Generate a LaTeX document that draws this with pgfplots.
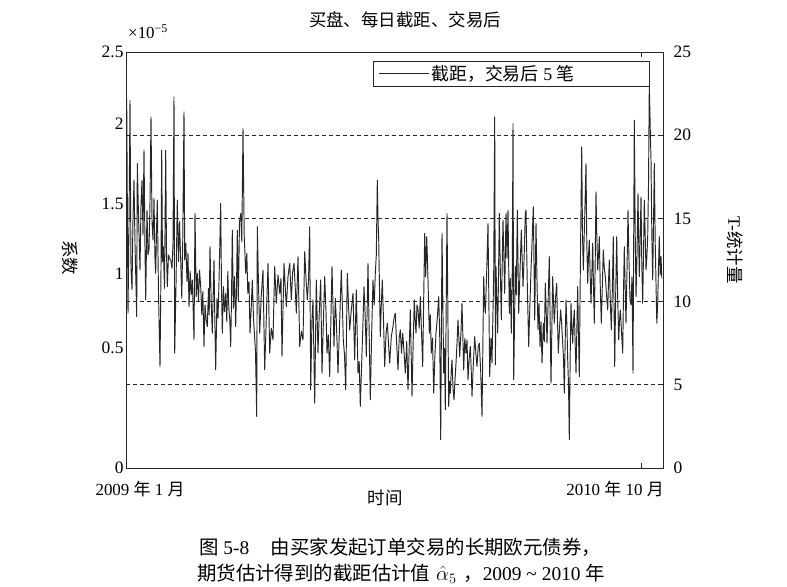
\documentclass[border=0pt]{standalone}
\usepackage{fontspec}
\setmainfont{Liberation Serif}
\newfontfamily\cjk{Noto Sans CJK SC}
\usepackage{pgfplots}
\pgfplotsset{compat=1.18}
\usepackage{pgfplotstable}
\pgfplotstableread{
x y
0 13.8
0.7 22.2
2 9.3
3 14.6
4 22.1
5 12.0
6 10.7
7 15.0
8 17.3
9 13.5
10.7 9.1
11.3 18.3
12.5 15.2
14 11.9
15 15.8
16 17.3
17 14.0
18 19.1
19 13.2
19.7 10.1
21 15.5
22 12.8
23 13.1
24 16.0
25 21.1
26 14.8
27 13.7
28 16.2
29 12.5
29.7 11.7
30.5 14.2
31.3 16.1
32.5 10.5
34 6.1
35 12.0
35.7 19.1
36.5 12.4
37.3 13.3
38.5 10.8
39.7 19.1
40.5 13.0
41.3 10.9
42.5 12.8
43.5 12.6
44.7 12.5
46 12.0
47 13.5
48 22.3
48.7 6.9
50 11.0
51.3 16.1
52.5 12.4
53.5 14.8
54.7 12.5
55.8 10.2
56.8 13.9
58 21.4
58.7 12.5
59.8 13.5
61 11.2
62 12.9
63 9.7
64.2 11.8
65.2 10.4
66.3 11.3
67.2 9.5
68 7.7
69 15.3
70.2 10.3
71.3 11.7
72.5 10.0
73.5 11.9
74.7 10.9
75.8 9.2
76.8 10.6
78 7.3
79 9.8
80.2 8.9
81.3 8.5
82.5 10.8
83.2 9.2
84 13.3
85.2 10.0
86.3 8.1
87.2 10.5
88 12.5
88.8 9.0
89.7 5.9
91 10.2
92 9.0
93 11.2
94.7 15.9
95.5 10.8
96.3 8.1
97.4 10.9
98.5 9.4
99.7 10.5
100.8 8.8
101.8 11.8
102.8 9.6
103.8 8.9
104.7 7.3
105.5 10.2
106.3 14.3
107.4 9.6
108.5 11.5
109.7 8.5
110.5 10.8
111.3 14.3
112.3 10.0
113.5 14.8
114.7 15.3
115.8 13.6
117 20.4
118.2 14.0
119.7 11.7
120.8 12.9
121.8 10.5
123 11.2
124 8.1
125.2 9.6
126.3 11.3
127.5 9.0
128.5 8.0
129.5 7.0
130.7 3.1
131.3 14.5
132.5 11.0
133.7 8.1
135.3 10.4
137 11.9
138.7 5.9
140.3 9.0
142 12.3
143.7 6.9
145.3 8.4
147 7.7
148.7 12.1
150.3 9.9
152 11.6
153.7 10.5
155 11.4
156 6.7
158 12.3
159.2 10.9
160.3 9.7
162 11.5
163.7 12.3
165.3 10.1
166.7 11.8
168 12.3
169.2 10.9
170.3 9.3
172 12.7
173.7 7.3
175.3 8.2
177 7.7
178.7 13.0
180 11.4
181.3 10.1
182.5 11.2
183.7 14.5
184.7 4.7
186 9.0
187 10.1
188.7 3.9
190.3 11.3
192 6.9
193.3 9.4
194.7 11.3
196 5.7
197.3 8.6
198.7 11.5
200 9.4
201 6.9
202.3 8.0
203.7 5.5
206 12.1
207 9.8
208 7.3
209.3 10.2
210.3 8.9
212 5.7
213.5 8.5
215.3 11.9
216.3 9.9
217.3 7.7
218.5 6.8
219.7 4.7
221.3 11.7
222.5 9.8
223.7 8.3
225.3 9.5
227 10.5
228.7 6.5
230.3 10.7
232 5.7
233.2 6.4
234.3 3.7
236 6.9
237 8.8
238 10.9
239.2 9.1
240.3 6.7
242 12.3
243.2 8.0
244.3 4.1
245.7 8.2
247 11.3
248.2 9.8
249.3 11.7
250.3 12.8
251.3 17.3
252 15.0
252.7 13.7
254.3 7.9
255.3 9.8
256.3 11.3
257.5 8.9
258.7 6.1
260 8.0
261.3 8.7
262.5 7.5
263.7 6.3
265.3 7.9
267 8.5
268 9.0
269.3 9.3
270.7 7.4
272 5.9
273.2 7.8
274.3 8.3
275.5 6.9
276.7 8.1
278 7.0
279.3 5.7
280.7 7.6
282 4.7
283.2 7.2
284.3 9.5
285.2 6.8
286 4.3
287.2 7.6
288.3 10.1
289.2 8.8
290 8.1
291 9.8
292 9.5
293.2 8.4
294.3 10.3
295.5 8.2
296.7 6.1
297.7 10.2
298.7 14.1
299.7 11.5
300.7 13.9
301.4 12.6
302 11.3
303.3 8.1
304.3 9.2
305.3 6.9
306.5 7.8
307.7 4.5
308.8 6.6
310 8.1
311.3 9.0
312.7 10.3
313.7 8.0
314.7 1.7
316 14.1
317.7 5.7
318.5 7.2
319.3 3.5
321 15.3
322.7 3.7
323.5 5.2
324.3 4.5
325.2 5.8
326 6.5
327 4.8
328 4.1
329 5.3
330 6.3
331 7.5
332 8.9
333.7 6.7
335 8.2
336 9.9
337.7 5.9
338.8 7.8
340 6.9
341 7.7
342 5.3
343.2 6.6
344.3 7.3
345.2 5.9
346 4.3
347.3 6.2
348.7 7.9
350 6.8
351 6.1
352.2 7.3
353.3 7.5
354.7 5.8
356 3.1
357.7 11.5
358.5 9.9
359.3 9.3
360.7 11.8
362 14.7
363.7 5.5
365 7.8
366 6.3
367.7 11.7
368.7 21.1
369.4 6.2
370 12.1
371.7 8.1
372.5 11.5
373.3 15.3
374.3 11.9
375.3 8.9
376.2 12.2
377 14.9
378.7 10.5
380 15.3
381 12.6
382 15.5
383.3 9.3
384.3 11.4
385.3 8.1
386.3 12.0
387 20.7
387.7 5.3
389.3 12.1
390.3 10.4
391.3 15.5
392.7 9.3
394 11.8
395.3 14.3
396.2 12.5
397 10.9
398.2 12.8
399.3 15.3
400 15.5
401.3 11.0
402.7 7.3
403.8 9.6
405 11.9
406.2 13.8
407.3 15.7
408.7 8.9
410 14.7
411 11.2
412 8.3
413 9.9
414 7.3
415 8.8
416 6.3
417.3 8.7
418.3 7.6
419.3 11.1
420.2 9.4
421 7.5
422.2 10.2
423.3 12.7
424.2 8.6
425 5.1
426 8.9
426.7 11.5
427.5 10.0
428.3 8.7
429.5 10.2
430.7 11.1
431.5 8.8
432.3 6.9
433.5 8.4
434.7 9.5
435.7 8.6
436.7 7.5
437.5 6.6
438.3 4.5
439.2 7.7
440 10.1
441 8.4
441.7 6.5
442.5 5.0
443.3 1.7
444.2 6.8
445 9.9
446 8.2
446.7 7.5
447.5 8.8
448.3 9.5
449.2 7.4
450 5.7
451 8.8
451.7 10.9
452.5 8.0
453.3 5.5
454.3 11.9
455.7 19.3
456.5 14.0
457.3 11.9
458.7 15.1
460 18.3
460.8 13.5
461.7 11.1
462.5 12.8
463.3 13.7
464.2 11.5
465 9.9
466 12.0
466.7 13.5
467.5 10.9
468.3 8.7
469.2 12.4
470 16.6
470.8 14.0
471.7 11.9
472.5 12.8
473.3 13.9
474.3 10.8
475.3 8.7
476.3 10.9
477.3 13.1
478.3 12.0
479.3 11.5
480.5 10.4
481.7 9.5
482.5 11.2
483.3 12.5
484.3 10.0
485.3 8.3
486.3 10.6
487.3 13.9
488 10.0
488.7 6.1
489.7 10.5
490.7 13.9
491.7 10.2
492.7 7.7
493.5 8.9
494.3 9.5
495.5 8.2
496.7 6.9
497.5 10.6
498.3 13.3
499.2 10.8
500 8.7
501 11.9
502 15.5
503 12.4
504 10.1
505 9.8
506 11.5
507 5.7
508.3 20.9
509.2 14.2
510 10.3
511 12.8
512 16.5
512.7 13.6
513.3 11.5
514.2 13.9
515 16.3
515.8 12.2
516.7 9.9
517.5 12.8
518.3 16.1
519.2 14.0
520 11.9
520.8 12.6
521.7 13.9
522.5 17.0
523.3 23.1
524.2 20.5
525 18.5
525.8 14.2
526.7 11.3
527.5 14.6
528.3 18.3
529.2 13.6
530 11.1
530.8 8.7
531.7 9.9
532.5 12.1
533.3 13.9
534.2 11.6
535 12.7
535.8 11.4
}\series

\begin{document}
\begin{tikzpicture}
\path[use as bounding box] (0bp,0bp) rectangle (787bp,587bp);
\begin{axis}[
  at={(126bp,119bp)}, anchor=south west,
  scale only axis, width=537bp, height=416bp,
  xmin=0, xmax=537, ymin=0, ymax=25,
  axis line style={line width=0.9bp, black!85},
  /pgf/number format/assume math mode=true,
  ytick={0,7.2,11.7,15.9,20.7,25},
  yticklabels={0,0.5,1,1.5,2,2.5},
  ytick pos=left,
  y tick style={draw=none},
  yticklabel style={font=\fontsize{17.5}{17.5}\selectfont, xshift=1bp},
  xtick={515}, xticklabels={},
  tick align=inside, major tick length=5bp,
  x tick style={line width=0.7bp, black!85},
  extra x ticks={14,489},
  extra x tick labels={{2009 {\cjk 年} 1 {\cjk 月}},{2010 {\cjk 年} 10 {\cjk 月}}},
  extra x tick style={major tick length=0pt, xticklabel style={font=\fontsize{17}{17}\selectfont, yshift=-10bp}},
  legend image code/.code={\draw[#1] (0bp,0bp) -- (50bp,0bp);},
  legend style={at={(0.9758,0.9784)}, anchor=north east, draw=black!85, line width=0.7bp,
    font=\fontsize{18}{18}\selectfont, inner xsep=5bp, inner ysep=2bp},
  legend cell align=left,
]
\addplot[forget plot, black!85, line width=0.6bp, dash pattern=on 4bp off 3bp] coordinates {(0,5) (537,5)};
\addplot[forget plot, black!85, line width=0.6bp, dash pattern=on 4bp off 3bp] coordinates {(0,10) (537,10)};
\addplot[forget plot, black!85, line width=0.6bp, dash pattern=on 4bp off 3bp] coordinates {(0,15) (537,15)};
\addplot[forget plot, black!85, line width=0.6bp, dash pattern=on 4bp off 3bp] coordinates {(0,20) (537,20)};
\addplot[black!85, line width=0.95bp, line join=round] table {\series};
\addlegendentry{{\cjk 截距，交易后} 5 {\cjk 笔}\hspace*{68bp}}
\end{axis}
\begin{axis}[
  at={(126bp,119bp)}, anchor=south west,
  scale only axis, width=537bp, height=416bp,
  xmin=0, xmax=537, ymin=0, ymax=25,
  axis x line=none, axis y line*=right,
  axis line style={line width=0.9bp, black!85},
  /pgf/number format/assume math mode=true,
  ytick={0,5,10,15,20,25},
  tick align=inside, major tick length=5bp,
  y tick style={line width=0.7bp, black!85},
  yticklabel style={font=\fontsize{17.5}{17.5}\selectfont, xshift=7bp},
]
\end{axis}
\node[font=\cjk\fontsize{17.5}{17.5}\selectfont] at (405bp,567bp) {买盘、每日截距、交易后};
\node[anchor=west, font=\fontsize{17}{17}\selectfont, inner sep=0pt] at (128bp,555bp) {×10\textsuperscript{−5}};
\node[font=\cjk\fontsize{17.5}{17.5}\selectfont] at (385bp,89bp) {时间};
\node[font=\cjk\fontsize{17.5}{17.5}\selectfont, rotate=-90] at (70bp,329bp) {系数};
\node[font=\fontsize{17.5}{17.5}\selectfont, rotate=-90] at (735bp,337bp) {T-{\cjk 统计量}};
\node[anchor=west, font=\fontsize{19.5}{19.5}\selectfont, inner sep=0pt] at (199bp,40bp) {{\cjk 图} 5-8\hspace{1.1em}{\cjk 由买家发起订单交易的长期欧元债券，}};
\node[anchor=west, font=\fontsize{19.5}{19.5}\selectfont, inner sep=0pt] at (197bp,13bp) {{\cjk 期货估计得到的截距估计值}\hspace{0.3em}$\hat{\alpha}_5$\hspace{0.35em}{\cjk ，}2009 \textasciitilde{} 2010 {\cjk 年}};
\end{tikzpicture}
\end{document}
